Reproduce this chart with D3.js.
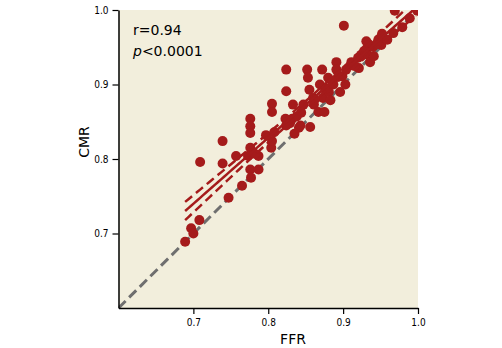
<!DOCTYPE html>
<html><head><meta charset="utf-8">
<script src="https://cdn.jsdelivr.net/npm/d3@7"></script>
<style>
html,body{margin:0;padding:0;background:#fff;}
svg{display:block;}
.tick text{font-family:"DejaVu Sans Condensed","DejaVu Sans";font-stretch:condensed;font-size:10px;fill:#000;}
</style></head><body>
<svg id="c" width="502" height="348"></svg>
<script>
const ffr = [0.689,0.697,0.700,0.708,0.709,0.747,0.739,0.739,0.757,0.765,0.773,0.776,0.776,0.776,0.776,0.776,0.777,0.787,0.787,0.797,0.804,0.805,0.805,0.805,0.808,0.824,0.824,0.823,0.824,0.832,0.833,0.835,0.841,0.844,0.847,0.852,0.853,0.855,0.856,0.860,0.861,0.867,0.869,0.872,0.873,0.875,0.876,0.880,0.881,0.883,0.887,0.891,0.891,0.893,0.896,0.899,0.901,0.903,0.904,0.911,0.920,0.921,0.924,0.931,0.932,0.933,0.936,0.940,0.941,0.947,0.951,0.952,0.959,0.967,0.969,0.979,0.989,0.999,0.782,0.829,0.838,0.843,0.862,0.878,0.885,0.915,0.928,0.945];
const cmr = [0.689,0.707,0.700,0.718,0.796,0.748,0.824,0.794,0.804,0.764,0.804,0.854,0.844,0.835,0.815,0.786,0.775,0.786,0.804,0.832,0.815,0.874,0.863,0.824,0.836,0.920,0.891,0.854,0.845,0.854,0.873,0.834,0.842,0.862,0.873,0.920,0.909,0.893,0.843,0.882,0.873,0.863,0.900,0.920,0.882,0.863,0.893,0.909,0.890,0.879,0.900,0.930,0.920,0.910,0.890,0.911,0.979,0.900,0.920,0.930,0.936,0.922,0.940,0.958,0.949,0.940,0.930,0.951,0.938,0.960,0.953,0.968,0.960,0.969,0.999,0.977,0.989,0.999,0.807,0.848,0.857,0.845,0.880,0.895,0.905,0.925,0.945,0.955];
const xTicks = [0.7,0.8,0.9,1.0];
const yTicks = [0.7,0.8,0.9,1.0];
const statLines = ["r=0.94","<0.0001"];

const svg = d3.select("#c");
const L=118.5,R=418,T=10,B=308;
const x = d3.scaleLinear().domain([0.6,1.0]).range([L,R]);
const y = d3.scaleLinear().domain([0.6,1.0]).range([B,T]);

svg.append("rect").attr("x",L).attr("y",T).attr("width",R-L).attr("height",B-T).attr("fill","#f2eedc");

const clip = svg.append("defs").append("clipPath").attr("id","pc").append("rect")
  .attr("x",L).attr("y",T).attr("width",R-L).attr("height",B-T);
const g = svg.append("g").attr("clip-path","url(#pc)");

// identity line
g.append("line").attr("x1",x(0.6)).attr("y1",y(0.6)).attr("x2",x(1.0)).attr("y2",y(1.0))
  .attr("stroke","#6f6f6f").attr("stroke-width",3).attr("stroke-dasharray","10,5");

// regression
const n=ffr.length;
const mx=d3.mean(ffr), my=d3.mean(cmr);
let sxx=0,sxy=0;
for(let i=0;i<n;i++){sxx+=(ffr[i]-mx)**2;sxy+=(ffr[i]-mx)*(cmr[i]-my);}
const b=sxy/sxx, a=my-b*mx;
let sse=0; for(let i=0;i<n;i++){sse+=(cmr[i]-a-b*ffr[i])**2;}
const s=Math.sqrt(sse/(n-2)), t=1.99;
const xs=d3.range(d3.min(ffr),d3.max(ffr)+1e-9,0.004);
const fit=xs.map(v=>[v,a+b*v]);
const up=xs.map(v=>[v,a+b*v+t*s*Math.sqrt(1/n+(v-mx)**2/sxx)]);
const lo=xs.map(v=>[v,a+b*v-t*s*Math.sqrt(1/n+(v-mx)**2/sxx)]);
const line=d3.line().x(d=>x(d[0])).y(d=>y(d[1]));
const red="#a51b1b";

g.selectAll("circle").data(ffr).join("circle")
  .attr("cx",(d)=>x(d)).attr("cy",(d,i)=>y(cmr[i])).attr("r",5).attr("fill",red);

g.append("path").attr("d",line(fit)).attr("fill","none").attr("stroke",red).attr("stroke-width",2.5);
[up,lo].forEach(p=>g.append("path").attr("d",line(p)).attr("fill","none").attr("stroke",red)
  .attr("stroke-width",2.5).attr("stroke-dasharray","9,5"));

// axes
const xa=svg.append("g").attr("transform",`translate(0,${B})`)
  .call(d3.axisBottom(x).tickValues(xTicks).tickFormat(d3.format(".1f")).tickSize(6).tickSizeOuter(0));
const ya=svg.append("g").attr("transform",`translate(${L},0)`)
  .call(d3.axisLeft(y).tickValues(yTicks).tickFormat(d3.format(".1f")).tickSize(6).tickSizeOuter(0));
[xa,ya].forEach(a=>{a.select(".domain").attr("stroke","#000").attr("stroke-width",1.5);
  a.selectAll(".tick line").attr("stroke","#000").attr("stroke-width",1.2);});
xa.selectAll(".tick text").attr("dy","0.9em");
ya.selectAll(".tick text").attr("dx","-1");

svg.append("text").attr("x",293).attr("y",344).attr("text-anchor","middle")
  .attr("font-family","DejaVu Sans").attr("font-size",14).text("FFR");
svg.append("text").attr("transform","translate(89,142) rotate(-90)").attr("text-anchor","middle")
  .attr("font-family","DejaVu Sans").attr("font-size",14).text("CMR");

svg.append("text").attr("x",133).attr("y",35).attr("font-family","DejaVu Sans").attr("font-size",14).text(statLines[0]);
const pt=svg.append("text").attr("x",133).attr("y",56).attr("font-family","DejaVu Sans").attr("font-size",14);
pt.append("tspan").attr("font-style","italic").text("p");
pt.append("tspan").text(statLines[1]);
</script></body></html>
